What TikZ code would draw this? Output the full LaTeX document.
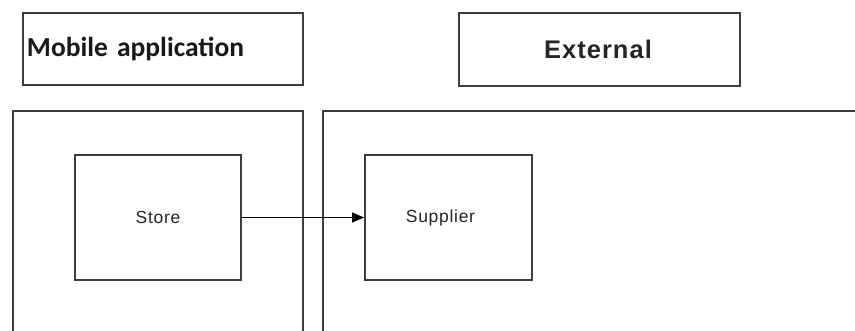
\documentclass[tikz,border=0pt]{standalone}
\usepackage{fontspec}
\setmainfont{Liberation Sans}
\newfontfamily\carlito{Carlito}
\newfontfamily\arialsp[LetterSpace=4]{Liberation Sans}
\usetikzlibrary{arrows.meta}
\definecolor{lc}{RGB}{62,62,62}
\tikzset{
  x=1pt, y=-1pt,
  frame/.style={draw=lc, line width=1.8pt},
  titlebox/.style={frame, rectangle, inner sep=0pt},
  entity/.style={frame, rectangle, minimum width=166pt, minimum height=125pt, inner sep=0pt,
    font=\arialsp\fontsize{17.5}{20}\selectfont, text=black!85},
  flow/.style={draw=black, line width=1.3pt, -{Triangle[length=12pt,width=10pt]}}
}
\begin{document}
\begin{tikzpicture}
\useasboundingbox[fill=white] (0,0) rectangle (855,331);
% title boxes
\node[titlebox, minimum width=280pt, minimum height=72pt, text width=272pt, align=left,
  font=\carlito\bfseries\fontsize{27.5}{30}\selectfont, text=black!90] (mobile) at (163,49) {Mobile application\\[6pt]};
\node[titlebox, minimum width=281pt, minimum height=73pt,
  font=\arialsp\bfseries\fontsize{25.5}{28}\selectfont, text=black!85] (external) at (599.5,49.5) {\hspace*{-3pt}External};
% containers (open at the bottom and right)
\coordinate (mobBL) at (13,335);
\coordinate (mobTL) at (13,111);
\coordinate (mobTR) at (303,111);
\coordinate (mobBR) at (303,335);
\draw[frame] (mobBL) -- (mobTL) -- (mobTR) -- (mobBR);
\coordinate (extBL) at (323,335);
\coordinate (extTL) at (323,111);
\coordinate (extTR) at (860,111);
\draw[frame] (extBL) -- (extTL) -- (extTR);
% entities
\node[entity] (store) at (158,217.5) {Store};
\node[entity, minimum width=167pt] (supplier) at (448.5,217.5) {\hspace*{-16pt}Supplier};
\draw[flow] (store.east) -- (supplier.west);
\end{tikzpicture}
\end{document}
